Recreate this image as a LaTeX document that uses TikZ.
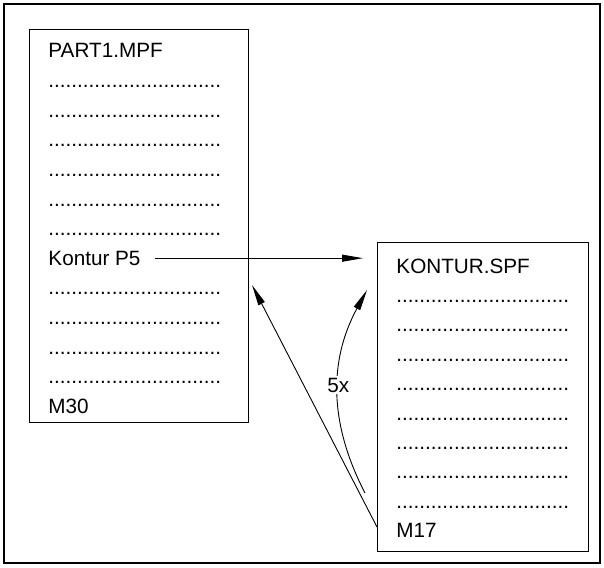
\documentclass[tikz,border=0pt]{standalone}
\usepackage{fontspec}
\setmainfont{Liberation Sans}
\usetikzlibrary{arrows.meta}

\newcommand{\dotrow}{..............................}

\begin{document}
\begin{tikzpicture}[x=1pt,y=-1pt,line width=0.9pt,>={Triangle[length=21pt,width=7pt]},
  txt/.style={anchor=base west,inner sep=0pt,font=\fontsize{20.7}{24}\selectfont},
  prog/.style={draw,line width=1.3pt,anchor=north west,inner sep=0pt}]
  \useasboundingbox (0,0) rectangle (604,567);
  % frame
  \draw[line width=1.3pt] (4,4) rectangle (600,563);
  % main program
  \node[prog,minimum width=219pt,minimum height=393pt] (part) at (29,29) {};
  \node[txt] (partname) at (48,58) {PART1.MPF};
  \foreach \k in {1,...,6,8,9,10,11} \node[txt] (pdot\k) at (48,{58+29.6*\k}) {\dotrow};
  \node[txt] (kontur) at (48,265.2) {Kontur P5};
  \node[txt] (m30) at (48,413.2) {M30};
  % subroutine
  \node[prog,minimum width=211pt,minimum height=309pt] (sub) at (377,242) {};
  \node[txt] (subname) at (396,273) {KONTUR.SPF};
  \foreach \k in {1,...,8} \node[txt] (sdot\k) at (396,{273+29.4*\k}) {\dotrow};
  \node[txt] (m17) at (396,537.6) {M17};
  % call, loop and return
  \coordinate (retout) at (377,527); \coordinate (retin) at (252,285);
  \coordinate (loopout) at (365,493); \coordinate (loopin) at (367,290);
  \draw[->] ([xshift=14pt]kontur.east) -- ([xshift=-14pt]kontur.east -| sub.west);
  \draw[->] (retout) -- (retin);
  \draw[->] (loopout) to[bend left=28] node[txt,anchor=center,fill=white,inner sep=2pt,pos=0.53] (times) {5x} (loopin);
\end{tikzpicture}
\end{document}
